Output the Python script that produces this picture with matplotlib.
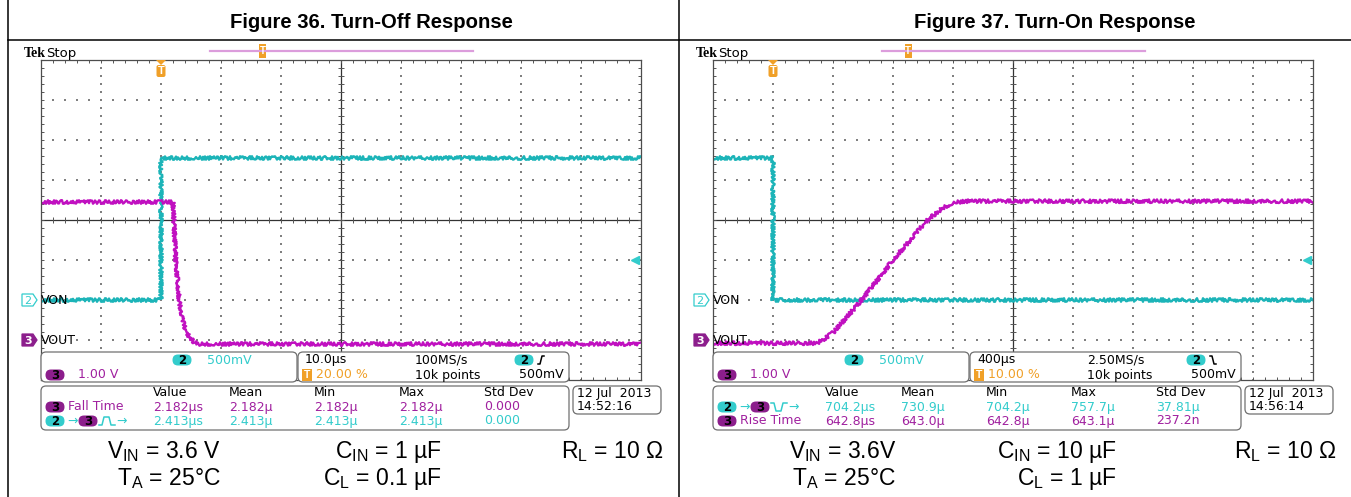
import numpy as np
import matplotlib.pyplot as plt
from matplotlib.patches import FancyBboxPatch, Polygon, Rectangle

plt.rcParams['font.family'] = 'Liberation Sans'
plt.rcParams['mathtext.fontset'] = 'custom'
plt.rcParams['mathtext.rm'] = 'Liberation Sans'
plt.rcParams['mathtext.default'] = 'regular'

titles = ['Figure 36. Turn-Off Response', 'Figure 37. Turn-On Response']

# turn-off: time in µs (10 µs/div, trigger at 20 %)
off_von_t = [-20, 0, 0, 80]
off_von_v = [0.0, 0.0, 1.78, 1.78]
off_vout_t = [-20, 2.0, 2.2, 2.5, 3.0, 3.5, 4.0, 4.7, 5.5, 6.5, 80]
off_vout_v = [3.45, 3.45, 2.8, 1.95, 1.05, 0.55, 0.28, 0.08, -0.05, -0.1, -0.1]

# turn-on: time in µs (400 µs/div, trigger at 10 %)
on_von_t = [-400, 0, 0, 3600]
on_von_v = [1.78, 1.78, 0.0, 0.0]
on_vout_t = [-400, 290, 330, 400, 580, 800, 1030, 1130, 1200, 1280, 3600]
on_vout_v = [-0.08, -0.08, 0.0, 0.18, 0.95, 2.0, 3.0, 3.3, 3.43, 3.47, 3.47]

meas_header = ['Value', 'Mean', 'Min', 'Max', 'Std Dev']
off_fall = ['2.182µs', '2.182µ', '2.182µ', '2.182µ', '0.000']
off_delay = ['2.413µs', '2.413µ', '2.413µ', '2.413µ', '0.000']
on_delay = ['704.2µs', '730.9µ', '704.2µ', '757.7µ', '37.81µ']
on_rise = ['642.8µs', '643.0µ', '642.8µ', '643.1µ', '237.2n']

timebase = ['10.0µs', '400µs']
samplerate = ['100MS/s', '2.50MS/s']
trig_pct = [20.0, 10.0]
stamp_date = ['12 Jul  2013', '12 Jul  2013']
stamp_time = ['14:52:16', '14:56:14']

cond_row1 = [[r'V$_{IN}$ = 3.6 V', r'C$_{IN}$ = 1 µF', r'R$_{L}$ = 10 Ω'],
             [r'V$_{IN}$ = 3.6V', r'C$_{IN}$ = 10 µF', r'R$_{L}$ = 10 Ω']]
cond_row2 = [[r'T$_{A}$ = 25°C', r'C$_{L}$ = 0.1 µF'],
             [r'T$_{A}$ = 25°C', r'C$_{L}$ = 1 µF']]

CYAN_TR = '#1cb4b8'
CYAN = '#33cccc'
MAG_TR = '#c010c0'
PURPLE = '#8c1e8c'
PURPLE_TXT = '#a0209f'
ORANGE = '#f0a028'
MONO = 'DejaVu Sans'

W, H = 1351, 497
fig = plt.figure(figsize=(W / 100, H / 100), dpi=100)
bg = fig.add_axes([0, 0, 1, 1], zorder=5)
bg.set_xlim(0, W)
bg.set_ylim(H, 0)
bg.axis('off')

for x in (8, 679):
    bg.plot([x, x], [0, H], color='black', lw=1.1)
bg.plot([8, W], [40, 40], color='black', lw=1.1)


def scope_axes(dx, t0, tdiv):
    ax = fig.add_axes([(41 + dx) / W, (H - 380) / H, 600 / W, 320 / H], zorder=1)
    ax.set_xlim(t0, t0 + 10 * tdiv)
    ax.set_ylim(-4, 4)
    ax.set_xticks([])
    ax.set_yticks([])
    for s in ax.spines.values():
        s.set_color('#4d4d4d')
        s.set_linewidth(0.9)
    fx = t0 + np.arange(51) * tdiv / 5
    fy = np.arange(-20, 21) * 0.2
    dot = dict(marker='s', s=1.3, color='#808080', linewidths=0)
    for k in range(1, 10):
        if k != 5:
            ax.scatter(np.full(fy.size, t0 + k * tdiv), fy, **dot)
    for k in (-3, -2, -1, 1, 2, 3):
        ax.scatter(fx, np.full(fx.size, k), **dot)
    tc = t0 + 5 * tdiv
    ax.axhline(0, color='#333333', lw=0.9)
    ax.axvline(tc, color='#333333', lw=0.9)
    tk = dict(ls='none', color='#555555', mew=0.7, ms=4)
    ax.plot(fx, np.zeros(fx.size), marker='|', **tk)
    ax.plot(np.full(fy.size, tc), fy, marker='_', **tk)
    ax.plot(fx, np.full(fx.size, 4), marker='|', **tk)
    ax.plot(fx, np.full(fx.size, -4), marker='|', **tk)
    ax.plot(np.full(fy.size, t0), fy, marker='_', **tk)
    ax.plot(np.full(fy.size, t0 + 10 * tdiv), fy, marker='_', **tk)
    return ax


def trace(ax, t, v, vdiv, pos, color):
    y = np.asarray(v) / vdiv + pos
    ln, = ax.plot(t, y, color=color, lw=1.7)
    ln.set_sketch_params(scale=1.8, length=2, randomness=3)


def badge(x, y, label, fill, txt='black', w=19, h=11):
    bg.add_patch(FancyBboxPatch((x - w / 2, y - h / 2), w, h,
                                boxstyle='round,pad=0,rounding_size=5.5',
                                fc=fill, ec='none'))
    bg.text(x, y + 0.5, label, ha='center', va='center', fontsize=8.5,
            color=txt, family=MONO, weight='bold')


def rbox(x0, y0, x1, y1):
    bg.add_patch(FancyBboxPatch((x0, y0), x1 - x0, y1 - y0,
                                boxstyle='round,pad=0,rounding_size=5',
                                fc='white', ec='#707070', lw=0.9))


def txt(x, y, s, color='black', ha='left'):
    bg.text(x, y, s, ha=ha, va='center', fontsize=9, color=color, family=MONO)


def icon(x, y, pts, color):
    bg.plot([x + p[0] for p in pts], [y + p[1] for p in pts], color=color, lw=1.1)


pulse_up = [(0, 4), (3, 4), (5, -4), (10, -4), (12, 4), (16, 4)]
pulse_dn = [(0, -4), (3, -4), (5, 4), (10, 4), (12, -4), (16, -4)]
edge_up = [(0, 4), (2, 4), (4, -4), (6, -4)]
edge_dn = [(0, -4), (2, -4), (4, 4), (6, 4)]

panels = [
    dict(dx=0, title_x=371, t0=-20, tdiv=10,
         von=(off_von_t, off_von_v), vout=(off_vout_t, off_vout_v),
         rows=[('3', 'Fall Time', off_fall, PURPLE_TXT), ('2', None, off_delay, CYAN)],
         pulse=pulse_up, edge=edge_up, cond_x=[221, 442, 663]),
    dict(dx=672, title_x=1055, t0=-400, tdiv=400,
         von=(on_von_t, on_von_v), vout=(on_vout_t, on_vout_v),
         rows=[('2', None, on_delay, CYAN), ('3', 'Rise Time', on_rise, PURPLE_TXT)],
         pulse=pulse_dn, edge=edge_dn, cond_x=[896, 1117, 1336]),
]

for i, p in enumerate(panels):
    dx = p['dx']
    bg.text(p['title_x'], 28, titles[i], ha='center', va='baseline',
            fontsize=14.6, weight='bold')

    # scope screen
    ax = scope_axes(dx, p['t0'], p['tdiv'])
    trace(ax, *p['von'], 0.5, -2, CYAN_TR)
    trace(ax, *p['vout'], 1.0, -3, MAG_TR)
    ax.plot(p['t0'] + 9.9 * p['tdiv'], -1, marker='<', ms=5.5, color=CYAN,
            mec=CYAN, clip_on=False)

    # header: Tek Stop, record bar, trigger markers
    bg.text(24 + dx, 57, 'Tek', fontsize=10, weight='bold',
            family='Liberation Serif', va='baseline')
    bg.text(46 + dx, 57, 'Stop', fontsize=9.5, family=MONO, va='baseline')
    bg.plot([210 + dx, 473 + dx], [51, 51], color='#dc9ddc', lw=1.6)
    tx = 210 + dx + trig_pct[i] / 100 * 263
    bg.add_patch(Rectangle((tx - 3.5, 44), 7, 14, fc=ORANGE, ec='none'))
    bg.text(tx, 51.5, 'T', ha='center', va='center', fontsize=7,
            color='white', weight='bold')
    tx = 41 + dx + trig_pct[i] / 100 * 600
    bg.add_patch(Polygon([(tx - 5, 60), (tx + 5, 60), (tx, 65)], fc=ORANGE, ec='none'))
    bg.add_patch(FancyBboxPatch((tx - 4.5, 65), 9, 12, boxstyle='round,pad=0,rounding_size=2',
                                fc=ORANGE, ec='none'))
    bg.text(tx, 71.5, 'T', ha='center', va='center', fontsize=8,
            color='white', weight='bold')

    # channel ground markers
    bg.add_patch(Polygon([(22 + dx, 294), (33 + dx, 294), (37 + dx, 300),
                          (33 + dx, 306), (22 + dx, 306)], fc='white', ec=CYAN, lw=0.9))
    bg.text(28 + dx, 300.5, '2', ha='center', va='center', fontsize=8,
            color=CYAN, family=MONO)
    txt(41 + dx, 300, 'VON')
    bg.add_patch(Polygon([(22 + dx, 334), (33 + dx, 334), (37 + dx, 340),
                          (33 + dx, 346), (22 + dx, 346)], fc=PURPLE, ec=PURPLE, lw=0.9))
    bg.text(28 + dx, 340.5, '3', ha='center', va='center', fontsize=8,
            color='white', family=MONO, weight='bold')
    txt(41 + dx, 340, 'VOUT')

    # channel box
    rbox(41 + dx, 352, 297 + dx, 382)
    badge(182 + dx, 360, '2', CYAN)
    txt(207 + dx, 360, '500mV', CYAN)
    badge(55 + dx, 375, '3', PURPLE)
    txt(78 + dx, 375, '1.00 V', PURPLE_TXT)

    # timebase box
    rbox(298 + dx, 352, 569 + dx, 382)
    txt(305 + dx, 360, timebase[i])
    txt(415 + dx, 360, samplerate[i])
    badge(524 + dx, 360, '2', CYAN)
    icon(538 + dx, 360, p['edge'], 'black')
    bg.add_patch(Rectangle((302 + dx, 369), 10, 12, fc=ORANGE, ec='none'))
    bg.text(307 + dx, 375.5, 'T', ha='center', va='center', fontsize=7.5,
            color='white', weight='bold')
    txt(316 + dx, 375, '%.2f %%' % trig_pct[i], ORANGE)
    txt(415 + dx, 375, '10k points')
    txt(519 + dx, 375, '500mV')

    # measurement box
    rbox(41 + dx, 386, 569 + dx, 430)
    cols = [153, 229, 314, 399, 484]
    for c, h in zip(cols, meas_header):
        txt(c + dx, 393, h)
    for r, (ch, label, vals, col) in enumerate(p['rows']):
        y = 407 + r * 14
        if ch == '3':
            badge(55 + dx, y, '3', PURPLE)
            txt(68 + dx, y, label, PURPLE_TXT)
        else:
            badge(55 + dx, y, '2', CYAN)
            txt(67 + dx, y, '→', CYAN)
            badge(88 + dx, y, '3', PURPLE)
            icon(99 + dx, y, p['pulse'], CYAN)
            txt(116 + dx, y, '→', CYAN)
        for c, v in zip(cols, vals):
            txt(c + dx, y, v, col)

    # date stamp
    rbox(573 + dx, 386, 661 + dx, 414)
    txt(577 + dx, 393, stamp_date[i])
    txt(577 + dx, 407, stamp_time[i])

    # test conditions
    for x, s in zip(p['cond_x'], cond_row1[i]):
        bg.text(x, 458, s, ha='right', va='baseline', fontsize=16.5)
    for x, s in zip(p['cond_x'], cond_row2[i]):
        bg.text(x, 485, s, ha='right', va='baseline', fontsize=16.5)

fig.savefig('out.png', dpi=100)
